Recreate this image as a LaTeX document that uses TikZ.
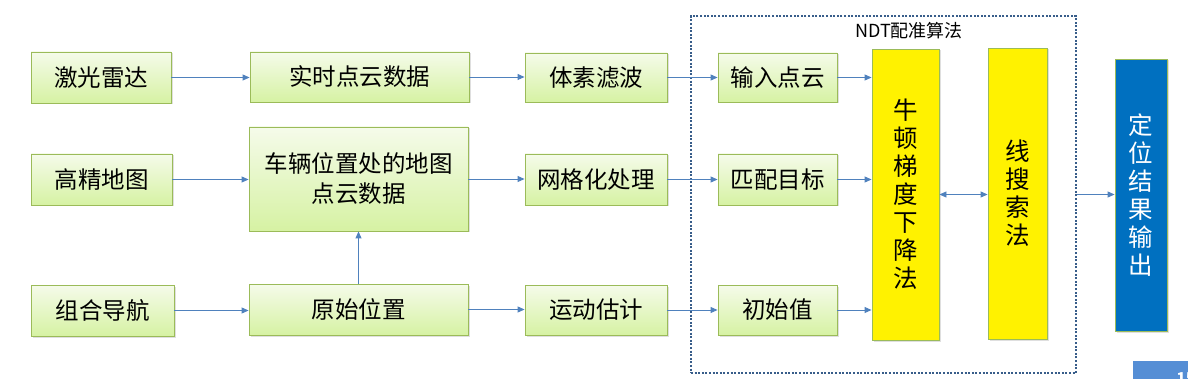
\documentclass[tikz,border=0pt]{standalone}
\usepackage{fontspec}
\setmainfont{Noto Sans CJK SC}
\usetikzlibrary{arrows.meta,shadows}
\definecolor{gborder}{HTML}{9BBB59}
\definecolor{gtop}{HTML}{F5FBEA}
\definecolor{gbot}{HTML}{D6F2A3}
\definecolor{arr}{HTML}{4F81BD}
\definecolor{ndtc}{HTML}{385D8A}
\definecolor{outblue}{HTML}{0070C0}
\definecolor{pgnum}{HTML}{558ED5}
\tikzset{
  gbox/.style={draw=gborder, line width=0.9pt, top color=gtop, bottom color=gbot,
    rectangle, inner sep=0pt, align=center,
    font=\fontsize{23.5pt}{30pt}\selectfont,
    drop shadow={shadow xshift=1.5pt, shadow yshift=-1.5pt, opacity=0.25}},
  ybox/.style={draw=gborder, line width=0.9pt, fill=yellow, rectangle, inner sep=0pt,
    align=center, font=\fontsize{24.5pt}{28pt}\selectfont,
    drop shadow={shadow xshift=1.5pt, shadow yshift=-1.5pt, opacity=0.25}},
  bbox/.style={draw=gborder, line width=0.9pt, fill=outblue, text=white, rectangle, inner sep=0pt,
    align=center, font=\fontsize{24.5pt}{28pt}\selectfont,
    drop shadow={shadow xshift=1.5pt, shadow yshift=-1.5pt, opacity=0.25}},
  conn/.style={draw=arr, line width=0.9pt, -{Triangle[length=7pt,width=6pt]}},
  dconn/.style={draw=arr, line width=0.9pt, {Triangle[length=7pt,width=6pt]}-{Triangle[length=7pt,width=6pt]}},
  ndtframe/.style={draw=ndtc, line width=2pt, dash pattern=on 2pt off 1.6pt, rectangle, inner sep=0pt}
}
\begin{document}
\begin{tikzpicture}[x=1pt,y=-1pt]
\useasboundingbox (0,0) rectangle (1188,379);
\clip (0,0) rectangle (1188,379);
% NDT frame
\node[ndtframe, minimum width=385pt, minimum height=357pt] (ndt) at (883.5,194.5) {};
\node[font=\fontsize{18pt}{20pt}\selectfont, inner sep=0pt] (ndtlabel) at (909,31) {NDT配准算法};
% column 1
\node[gbox, minimum width=140pt, minimum height=51pt] (lidar) at (101,77.5) {激光雷达};
\node[gbox, minimum width=141pt, minimum height=51pt] (hdmap) at (101.5,179.5) {高精地图};
\node[gbox, minimum width=143pt, minimum height=51pt] (gnss) at (102.5,310.5) {组合导航};
% column 2
\node[gbox, minimum width=219pt, minimum height=50pt] (rtpc) at (359.5,77) {实时点云数据};
\node[gbox, minimum width=219pt, minimum height=104pt] (carmap) at (358.5,179) {车辆位置处的地图\\点云数据};
\node[gbox, minimum width=219pt, minimum height=51pt] (rawpos) at (358.5,309.5) {原始位置};
% column 3
\node[gbox, minimum width=142pt, minimum height=49pt] (voxel) at (596,77.5) {体素滤波};
\node[gbox, minimum width=142pt, minimum height=51pt] (grid) at (596,179.5) {网格化处理};
\node[gbox, minimum width=142pt, minimum height=50pt] (motion) at (596,310) {运动估计};
% column 4
\node[gbox, minimum width=119pt, minimum height=49pt] (input) at (777.5,77.5) {输入点云};
\node[gbox, minimum width=119pt, minimum height=51pt] (match) at (777.5,179.5) {匹配目标};
\node[gbox, minimum width=119pt, minimum height=50pt] (init) at (777.5,310) {初始值};
% yellow boxes
\node[ybox, minimum width=67pt, minimum height=291pt] (newton) at (905.5,194.5) {牛\\顿\\梯\\度\\下\\降\\法};
\node[ybox, minimum width=59pt, minimum height=291pt] (lsearch) at (1017.5,193.5) {线\\搜\\索\\法};
% output
\node[bbox, minimum width=52pt, minimum height=272pt] (out) at (1141,195) {定\\位\\结\\果\\输\\出};
% page number tab
\node[fill=pgnum, rectangle, inner sep=0pt, minimum width=60pt, minimum height=18pt] (pg) at (1163,370) {};
\node[text=white, font=\bfseries\fontsize{15pt}{18pt}\selectfont, anchor=north west, inner sep=0pt] (pgtxt) at (1176.5,372) {15};
% connectors
\draw[conn] (lidar.east) -- (rtpc.west |- lidar.east);
\draw[conn] (rtpc.east) -- (voxel.west |- rtpc.east);
\draw[conn] (voxel.east) -- (input.west |- voxel.east);
\draw[conn] (input.east) -- (newton.west |- input.east);
\draw[conn] (hdmap.east) -- (carmap.west |- hdmap.east);
\draw[conn] (carmap.east) -- (grid.west |- carmap.east);
\draw[conn] (grid.east) -- (match.west |- grid.east);
\draw[conn] (match.east) -- (newton.west |- match.east);
\draw[conn] (gnss.east) -- (rawpos.west |- gnss.east);
\draw[conn] (rawpos.east) -- (motion.west |- rawpos.east);
\draw[conn] (motion.east) -- (init.west |- motion.east);
\draw[conn] (init.east) -- (newton.west |- init.east);
\draw[conn] (rawpos.north) -- (carmap.south);
\draw[dconn] (newton.east) -- (newton.east -| lsearch.west);
\draw[conn] (ndt.east) -- (out.west |- ndt.east);
\end{tikzpicture}
\end{document}
